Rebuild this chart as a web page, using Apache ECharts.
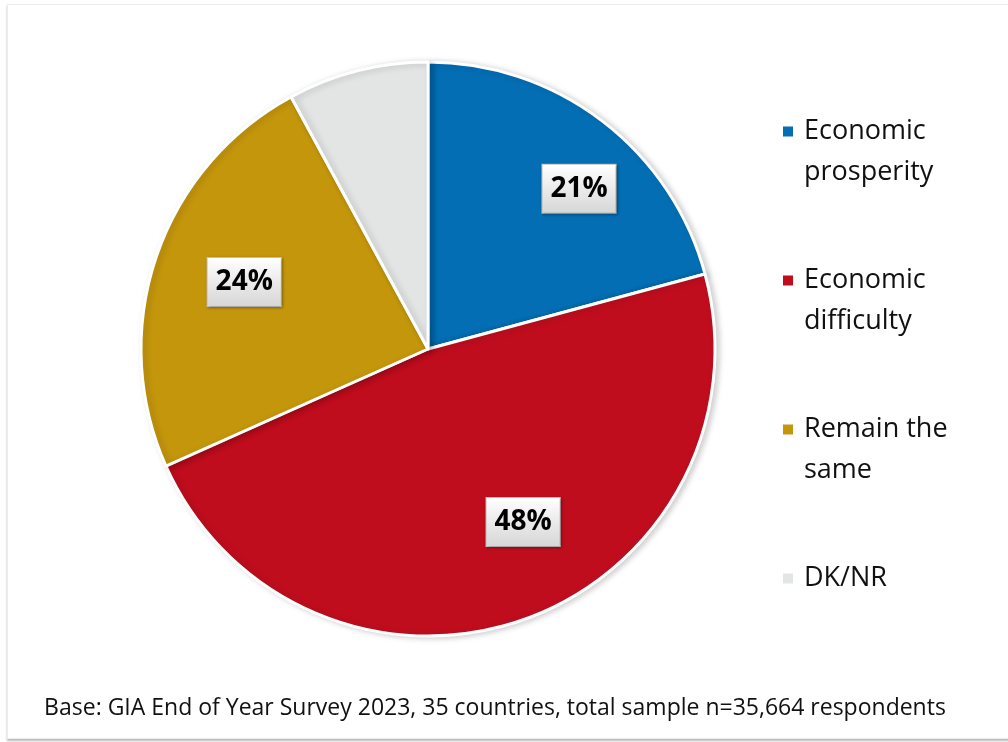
<!DOCTYPE html>
<html>
<head>
<meta charset="utf-8">
<style>
  html, body { margin: 0; padding: 0; background: #ffffff; overflow: hidden; }
  #frame {
    position: absolute; left: 7px; top: 4px; width: 1010px; height: 733px;
    border: 1px solid #ececec; box-shadow: 0 2px 2px rgba(0,0,0,0.28);
    background: #ffffff;
  }
  #chart { position: absolute; left: 0; top: 0; width: 1008px; height: 742px; }
</style>
<script src="https://cdn.jsdelivr.net/npm/echarts@6/dist/echarts.min.js"></script>
</head>
<body>
<div id="frame"></div>
<div id="chart"></div>
<script>
// Survey answers and their shares (percent)
const categories = ['Economic\nprosperity', 'Economic\ndifficulty', 'Remain the\nsame', 'DK/NR'];
const shares = [21, 48, 24, 8];
const showLabel = [true, true, true, false];
const sliceColors = ['#036eb4', '#c00d1e', '#c4960c', '#e3e4e4'];
// nudges for the percentage boxes, in pixels
const labelOffsets = [[62, -44], [46, 35], [-45, -20], [0, 0]];
const footnote = 'Base: GIA End of Year Survey 2023, 35 countries, total sample n=35,664 respondents';

const chart = echarts.init(document.getElementById('chart'), null, { renderer: 'canvas' });

const labelBg = new echarts.graphic.LinearGradient(0, 0, 0, 1, [
  { offset: 0, color: '#ffffff' },
  { offset: 1, color: '#d6d6d6' }
]);

const pieData = categories.map((name, i) => ({
  name: name,
  value: shares[i],
  itemStyle: { color: sliceColors[i] },
  label: { show: showLabel[i], offset: labelOffsets[i] }
}));

// every legend entry is a three-row block so the marker sits beside the first text row
const legendText = (name) => name.indexOf('\n') >= 0 ? '\n' + name : '\n' + name + '\n';

chart.setOption({
  animation: false,
  backgroundColor: 'transparent',
  title: {
    text: footnote,
    left: 490,
    textAlign: 'center',
    top: 692,
    textStyle: { fontFamily: 'Open Sans', fontSize: 23, fontWeight: 'normal', color: '#111111' }
  },
  legend: {
    orient: 'vertical',
    left: 781,
    top: 70,
    padding: 0,
    itemGap: 26,
    itemWidth: 12,
    itemHeight: 12,
    icon: 'rect',
    selectedMode: false,
    formatter: legendText,
    textStyle: { fontFamily: 'Open Sans', fontSize: 27, lineHeight: 41, color: '#111111', padding: [0, 0, 0, 5] }
  },
  series: [{
    type: 'pie',
    center: [428, 349],
    radius: [0, 287],
    startAngle: 90,
    clockwise: true,
    silent: true,
    itemStyle: {
      borderColor: '#ffffff',
      borderWidth: 3,
      shadowBlur: 6,
      shadowOffsetX: 3,
      shadowOffsetY: 1,
      shadowColor: 'rgba(0,0,0,0.18)'
    },
    label: {
      position: 'inside',
      formatter: (p) => p.value + '%',
      fontFamily: 'Open Sans',
      fontWeight: 'bold',
      fontSize: 28,
      lineHeight: 28,
      color: '#000000',
      backgroundColor: labelBg,
      borderColor: '#c4c4c4',
      borderWidth: 1,
      padding: [10, 8, 10, 8],
      shadowBlur: 3,
      shadowOffsetX: 1,
      shadowOffsetY: 1,
      shadowColor: 'rgba(0,0,0,0.3)'
    },
    labelLine: { show: false },
    data: pieData
  }]
});
</script>
</body>
</html>
